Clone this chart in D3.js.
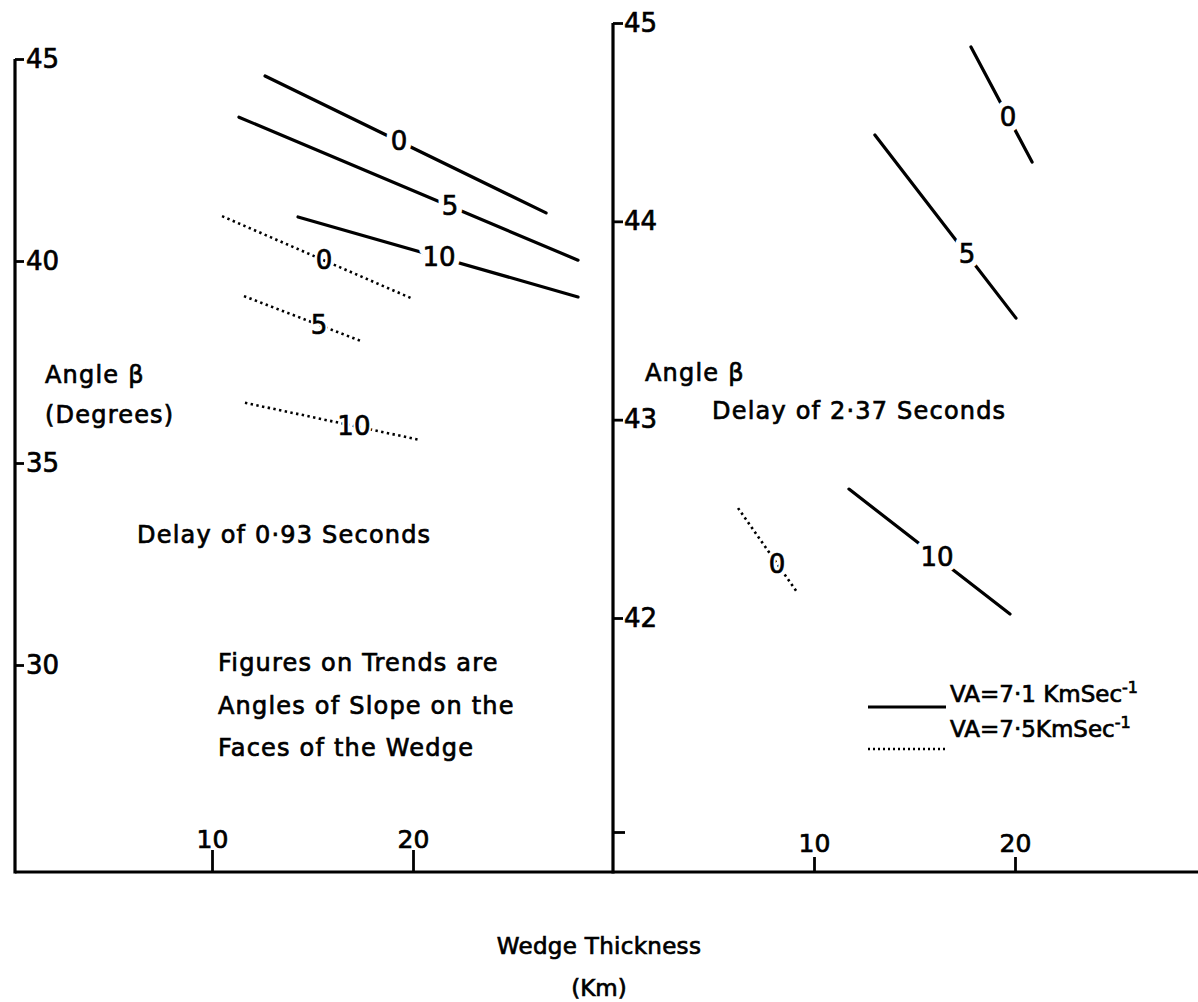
<!DOCTYPE html>
<html>
<head>
<meta charset="utf-8">
<script src="https://cdn.jsdelivr.net/npm/d3@7"></script>
<style>
  html, body { margin: 0; padding: 0; background: #fff; }
  svg { display: block; }
  text { font-family: "DejaVu Sans", sans-serif; fill: #000; }
  .ink { stroke: #000; stroke-width: 0.7px; }
</style>
</head>
<body>
<svg id="chart" width="1198" height="1002"></svg>
<script>
// ---- data -------------------------------------------------------------
// Left panel: delay of 0.93 s, angle beta (degrees) vs wedge thickness (km)
const leftYTicks = [30, 35, 40, 45];
const leftXTicks = [10, 20];
// Right panel: delay of 2.37 s
const rightYTicks = [42, 43, 44, 45];
const rightYMinor = [41];
const rightXTicks = [10, 20];

// Trends: slope angle label, start/end (km, degrees), label position (km)
const leftSolid = [
  { label: "0",  x0: 12.64, y0: 44.58, x1: 26.62, y1: 41.19, at: 19.30 },
  { label: "5",  x0: 11.34, y0: 43.56, x1: 28.21, y1: 40.02, at: 21.84 },
  { label: "10", x0: 14.28, y0: 41.09, x1: 28.21, y1: 39.11, at: 21.29 }
];
const leftDotted = [
  { label: "0",  x0: 10.50, y0: 41.11, x1: 20.00, y1: 39.06, at: 15.57 },
  { label: "5",  x0: 11.59, y0: 39.13, x1: 17.41, y1: 38.02, at: 15.32 },
  { label: "10", x0: 11.64, y0: 36.49, x1: 20.35, y1: 35.57, at: 17.06 }
];
const rightSolid = [
  { label: "0",  x0: 17.81, y0: 44.879, x1: 20.85, y1: 44.299, at: 19.65 },
  { label: "5",  x0: 13.03, y0: 44.435, x1: 20.05, y1: 43.512, at: 17.61 },
  { label: "10", x0: 11.74, y0: 42.650, x1: 19.75, y1: 42.020, at: 16.12 }
];
const rightDotted = [
  { label: "0",  x0: 6.22, y0: 42.554, x1: 9.15, y1: 42.131, at: 8.16 }
];

const legendItems = [
  { dotted: false, text: "VA=7·1 KmSec", sup: "-1" },
  { dotted: true,  text: "VA=7·5KmSec",  sup: "-1" }
];

// ---- layout -----------------------------------------------------------
const svg = d3.select("#chart");
const baseY = 872;
const leftAxisX = 15;

const xL = d3.scaleLinear().domain([0, 30]).range([11, 614]);
const yL = d3.scaleLinear().domain([30, 45]).range([665, 59]);
const xR = d3.scaleLinear().domain([0, 29]).range([613, 1195.9]);
// hand-ruled axis: spacing below 42 is a little wider
const yR = d3.scaleLinear().domain([41, 42, 45]).range([832, 618, 23]);

const lineW = 3.2;

// ---- axes -------------------------------------------------------------
// baseline
svg.append("line")
  .attr("x1", leftAxisX).attr("x2", 1198)
  .attr("y1", baseY).attr("y2", baseY)
  .attr("stroke", "#000").attr("stroke-width", lineW);

// left vertical axis
svg.append("line")
  .attr("x1", leftAxisX).attr("x2", leftAxisX)
  .attr("y1", yL(45)).attr("y2", baseY + 1.5)
  .attr("stroke", "#000").attr("stroke-width", lineW);

// right vertical axis
svg.append("line")
  .attr("x1", xR(0)).attr("x2", xR(0))
  .attr("y1", yR(45)).attr("y2", baseY + 1.5)
  .attr("stroke", "#000").attr("stroke-width", lineW);

function styleAxis(g, fontSize) {
  g.select(".domain").remove();
  g.selectAll(".tick line").attr("stroke", "#000").attr("stroke-width", 2.8);
  g.selectAll(".tick text")
    .attr("fill", "#000")
    .attr("class", "ink")
    .style("font-family", "DejaVu Sans, sans-serif")
    .style("font-size", fontSize + "px");
}

svg.append("g")
  .attr("transform", `translate(${leftAxisX},0)`)
  .call(d3.axisRight(yL).tickValues(leftYTicks).tickSize(9).tickPadding(2).tickFormat(d3.format("d")))
  .call(g => styleAxis(g, 26));

svg.append("g")
  .attr("transform", `translate(${xR(0)},0)`)
  .call(d3.axisRight(yR).tickValues(rightYTicks).tickSize(10).tickPadding(1).tickFormat(d3.format("d")))
  .call(g => styleAxis(g, 26));

svg.append("g")
  .attr("transform", `translate(${xR(0)},0)`)
  .call(d3.axisRight(yR).tickValues(rightYMinor).tickSize(12).tickFormat(""))
  .call(g => styleAxis(g, 26));

svg.append("g")
  .attr("transform", `translate(0,${baseY})`)
  .call(d3.axisTop(xL).tickValues(leftXTicks).tickSize(22).tickPadding(2).tickFormat(d3.format("d")))
  .call(g => styleAxis(g, 25));

svg.append("g")
  .attr("transform", `translate(0,${baseY})`)
  .call(d3.axisTop(xR).tickValues(rightXTicks).tickSize(15).tickPadding(5).tickFormat(d3.format("d")))
  .call(g => styleAxis(g, 25));

// ---- trends -----------------------------------------------------------
function drawTrends(data, x, y, dotted) {
  const g = svg.append("g");
  g.selectAll("line")
    .data(data)
    .join("line")
    .attr("x1", d => x(d.x0)).attr("y1", d => y(d.y0))
    .attr("x2", d => x(d.x1)).attr("y2", d => y(d.y1))
    .attr("stroke", "#000")
    .attr("stroke-width", dotted ? 2.6 : lineW)
    .attr("stroke-linecap", dotted ? "butt" : "round")
    .attr("stroke-dasharray", dotted ? "2.4 3.4" : null);

  // halo under each label breaks the trend line around it
  const pos = d => {
    const t = (d.at - d.x0) / (d.x1 - d.x0);
    return [x(d.at), y(d.y0 + t * (d.y1 - d.y0))];
  };
  g.selectAll("text.halo")
    .data(data)
    .join("text")
    .attr("class", "halo")
    .attr("x", d => pos(d)[0]).attr("y", d => pos(d)[1])
    .attr("text-anchor", "middle")
    .attr("dominant-baseline", "central")
    .style("font-size", "26px")
    .attr("fill", "#fff")
    .attr("stroke", "#fff")
    .attr("stroke-width", dotted ? 5 : 12)
    .attr("stroke-linejoin", "round")
    .text(d => d.label);
  g.selectAll("text.lab")
    .data(data)
    .join("text")
    .attr("class", "lab ink")
    .attr("x", d => pos(d)[0]).attr("y", d => pos(d)[1])
    .attr("text-anchor", "middle")
    .attr("dominant-baseline", "central")
    .style("font-size", "26px")
    .text(d => d.label);
}

drawTrends(leftSolid, xL, yL, false);
drawTrends(leftDotted, xL, yL, true);
drawTrends(rightSolid, xR, yR, false);
drawTrends(rightDotted, xR, yR, true);

// ---- annotations ------------------------------------------------------
const notes = [
  { x: 45,  y: 383, t: "Angle β" },
  { x: 45,  y: 423, t: "(Degrees)" },
  { x: 645, y: 381, t: "Angle β" },
  { x: 712, y: 419, t: "Delay of 2·37 Seconds" },
  { x: 137, y: 543, t: "Delay of 0·93 Seconds" },
  { x: 218, y: 671, t: "Figures on Trends are" },
  { x: 218, y: 714, t: "Angles of Slope on the" },
  { x: 218, y: 756, t: "Faces of the Wedge" }
];
svg.append("g").selectAll("text")
  .data(notes)
  .join("text")
  .attr("class", "ink")
  .attr("x", d => d.x).attr("y", d => d.y)
  .style("font-size", "24px")
  .style("letter-spacing", "1.2px")
  .text(d => d.t);

// x-axis title
svg.append("text")
  .attr("class", "ink")
  .attr("x", 599).attr("y", 954)
  .attr("text-anchor", "middle")
  .style("font-size", "23px")
  .style("letter-spacing", "0.3px")
  .text("Wedge Thickness");
svg.append("text")
  .attr("class", "ink")
  .attr("x", 599).attr("y", 996)
  .attr("text-anchor", "middle")
  .style("font-size", "23px")
  .text("(Km)");

// ---- legend -----------------------------------------------------------
const legend = svg.append("g");
const legRows = legend.selectAll("g")
  .data(legendItems)
  .join("g")
  .attr("transform", (d, i) => `translate(868,${[707, 749][i]})`);

legRows.append("line")
  .attr("x1", 0).attr("x2", 78)
  .attr("stroke", "#000")
  .attr("stroke-width", d => d.dotted ? 2.4 : lineW)
  .attr("stroke-dasharray", d => d.dotted ? "2 3" : null);

const legText = legRows.append("text")
  .attr("class", "ink")
  .attr("x", 82).attr("y", (d, i) => [-5, -12][i])
  .style("font-size", "23px");
legText.append("tspan").text(d => d.text);
legText.append("tspan")
  .attr("dy", -9)
  .style("font-size", "16px")
  .text(d => d.sup);
</script>
</body>
</html>
